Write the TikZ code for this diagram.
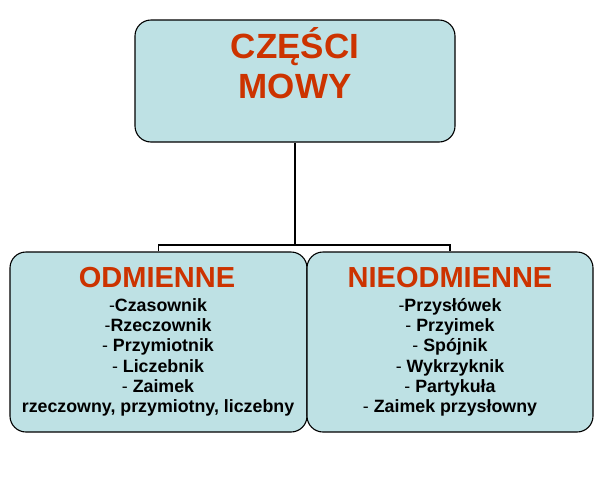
\documentclass[tikz,border=0pt]{standalone}
\usepackage{fontspec}
\setmainfont{Liberation Sans}
\definecolor{boxfill}{RGB}{190,225,228}
\definecolor{titlered}{RGB}{204,51,0}
\begin{document}
\begin{tikzpicture}[x=1pt,y=-1pt,
  box/.style={draw=black,line width=1.1pt,fill=boxfill,rounded corners=16pt,inner sep=0pt},
  bigtitle/.style={font=\fontsize{35}{40}\selectfont\bfseries,text=titlered,align=center,inner sep=0pt,anchor=base},
  subtitle/.style={font=\fontsize{29}{30}\selectfont\bfseries,text=titlered,inner sep=0pt,anchor=base},
  items/.style={font=\fontsize{17.8}{20.2}\selectfont\bfseries,align=center,inner sep=0pt,anchor=base},
  conn/.style={line width=1.1pt,draw=black}]
\useasboundingbox (0,0) rectangle (600,480);
\node[box,minimum width=320pt,minimum height=122pt] (top) at (295,81) {};
\node[box,minimum width=297pt,minimum height=180pt] (left) at (158.5,342) {};
\node[box,minimum width=286pt,minimum height=180pt] (right) at (450,342) {};
\node[bigtitle] (toptext) at (295,98) {CZĘŚCI\\MOWY};
\node[subtitle] (lt) at (157,287) {ODMIENNE};
\node[subtitle] (rt) at (450,287) {NIEODMIENNE};
\node[items] (li) at (158,412.5) {{\mdseries -}Czasownik\\{\mdseries -}Rzeczownik\\{\mdseries -} Przymiotnik\\{\mdseries -} Liczebnik\\{\mdseries -} Zaimek\\rzeczowny, przymiotny, liczebny};
\node[items] (ri) at (450,412.5) {{\mdseries -}Przysłówek\\{\mdseries -} Przyimek\\{\mdseries -} Spójnik\\{\mdseries -} Wykrzyknik\\{\mdseries -} Partykuła\\{\mdseries -} Zaimek przysłowny};
\coordinate (j) at (295,245);
\draw[conn] (top.south) -- (j);
\draw[conn] (left.north) |- (j) -| (right.north);
\end{tikzpicture}
\end{document}
